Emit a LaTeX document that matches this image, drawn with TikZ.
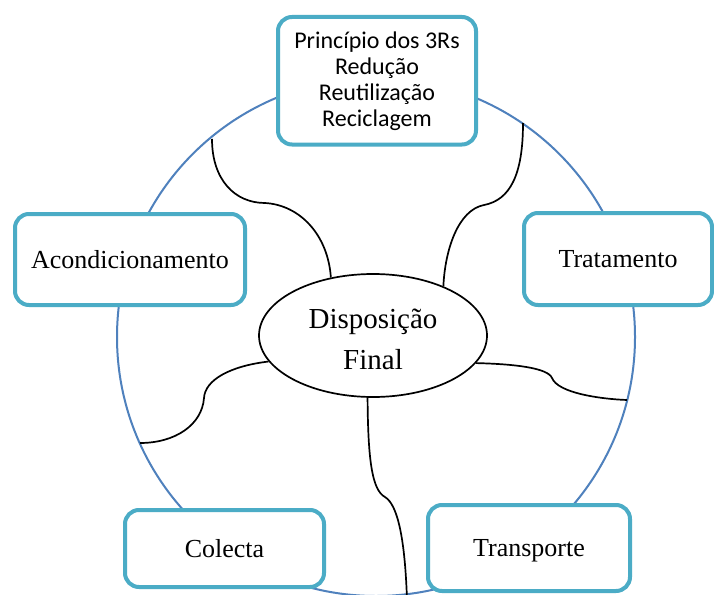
\documentclass[tikz,border=0pt]{standalone}
\usepackage{fontspec}
\setmainfont{Liberation Serif}
\newfontfamily\calibfont{Carlito}
\usetikzlibrary{shapes.geometric}
\definecolor{boxcol}{RGB}{75,172,198}
\definecolor{circcol}{RGB}{79,129,189}
\begin{document}
\begin{tikzpicture}[x=1pt,y=-1pt,
  stagebox/.style={draw=boxcol, line width=4pt, rounded corners=14pt, fill=white,
    inner sep=0pt, align=center, font=\fontsize{26}{30}\selectfont},
  cyclering/.style={draw=circcol, line width=2pt},
  link/.style={draw=black, line width=1.7pt},
  centre/.style={ellipse, draw=black, line width=1.7pt, fill=white, inner sep=0pt,
    align=center, font=\fontsize{29}{41}\selectfont}]
\fill[white] (0,0) rectangle (714,594);
\useasboundingbox (0,0) rectangle (714,594);

% ring
\draw[cyclering] (376,337) circle [radius=259pt];

% stage boxes
\node[stagebox, minimum width=198pt, minimum height=127.5pt,
  font=\calibfont\fontsize{24}{26}\selectfont] (tres) at (377,80.75)
  {Princípio dos 3Rs\\Redução\\Reutilização\\Reciclagem};
\node[stagebox, minimum width=230pt, minimum height=91pt] (acond) at (130,259.5) {Acondicionamento};
\node[stagebox, minimum width=188pt, minimum height=92pt] (trat) at (618,259) {Tratamento};
\node[stagebox, minimum width=199pt, minimum height=77pt] (colecta) at (224.5,548.5) {Colecta};
\node[stagebox, minimum width=202pt, minimum height=86pt, text depth=0pt] (transp) at (529,548) {Transporte};

% centre
\node[centre, minimum width=228pt, minimum height=123pt] (disp) at (373,335.5)
  {\rule{0pt}{28pt}Disposição\\Final};

% free ends on the ring
\coordinate (c1) at (212,139);
\coordinate (c2) at (523,123);
\coordinate (c3) at (140,443);
\coordinate (c4) at (627,400);
\coordinate (c5) at (407,600);

% connectors
\draw[link] (disp.126.6) .. controls (328,235) and (300,205) .. (265,203)
  .. controls (235,203) and (212,180) .. (c1);
\draw[link] (disp.35) .. controls (445,250) and (458,210) .. (484,205)
  .. controls (510,200) and (523,175) .. (c2);
\draw[link] (disp.194.5) .. controls (230,366) and (205,380) .. (204,398)
  .. controls (202,425) and (175,443) .. (c3);
\draw[link] (disp.345.3) .. controls (515,364) and (548,368) .. (552,378)
  .. controls (558,393) and (600,399) .. (c4);
\draw[link] (disp.265.4) .. controls (368,460) and (372,490) .. (385,497)
  .. controls (398,505) and (405,540) .. (c5);
\end{tikzpicture}
\end{document}
